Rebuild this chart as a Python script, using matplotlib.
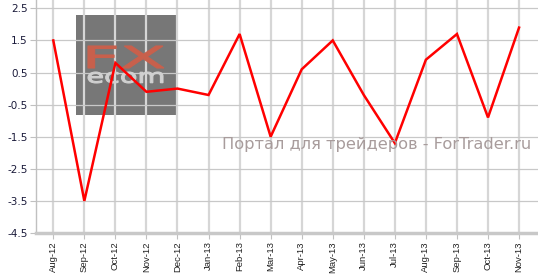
import matplotlib
matplotlib.use("Agg")
import matplotlib.pyplot as plt
from matplotlib.patches import Rectangle, PathPatch
from matplotlib.textpath import TextPath
from matplotlib.font_manager import FontProperties
from matplotlib.transforms import Affine2D, IdentityTransform

months = ["Aug-12", "Sep-12", "Oct-12", "Nov-12", "Dec-12", "Jan-13", "Feb-13", "Mar-13",
          "Apr-13", "May-13", "Jun-13", "Jul-13", "Aug-13", "Sep-13", "Oct-13", "Nov-13"]
values = [1.5, -3.5, 0.8, -0.1, 0.0, -0.2, 1.7, -1.5, 0.6, 1.5, -0.2, -1.7, 0.9, 1.7, -0.9, 1.9]
yticks = [2.5, 1.5, 0.5, -0.5, -1.5, -2.5, -3.5, -4.5]

W, H = 538, 274
fig = plt.figure(figsize=(W / 100, H / 100), dpi=100)
ax = fig.add_axes([36 / W, (H - 233) / H, 1 - 36 / W, 233 / H])

x = list(range(len(months)))
ax.set_xlim(-0.557, len(months) - 1 + 0.61)
ax.set_ylim(-4.5, 2.76)

# grid
for xi in x:
    ax.axvline(xi, color="#d6d6d6", lw=1.6, zorder=1)
for yv in yticks:
    ax.axhline(yv, color="#c8c8c8", lw=0.9, zorder=1)

box = Rectangle((76, H - 115), 100, 100, transform=IdentityTransform(),
                facecolor="#777777", edgecolor="none", zorder=0.5)
ax.add_patch(box)

def fitted_text(s, x0, ytop, w, h, color, weight="normal"):
    fp = FontProperties(family="DejaVu Sans", weight=weight)
    tp = TextPath((0, 0), s, size=10, prop=fp)
    ext = tp.get_extents()
    sx = w / ext.width
    sy = h / ext.height
    tr = (Affine2D().translate(-ext.x0, -ext.y0).scale(sx, sy)
          .translate(x0, H - ytop - h))
    p = PathPatch(tr.transform_path(tp), transform=IdentityTransform(),
                  facecolor=color, edgecolor=color, lw=0.8, zorder=1.2)
    ax.add_patch(p)

fitted_text("FX", 88, 46, 76, 22, "#c8604c")
fitted_text("ecom", 88, 72, 75, 11, "#d0d0d0")

ax.plot(x, values, color="#ff0000", lw=1.8, zorder=3, solid_joinstyle="miter")

ax.text(0.37, 0.38, "Портал для трейдеров - ForTrader.ru", transform=ax.transAxes,
        color="#a89c9c", fontsize=11.7, ha="left", va="center", family="DejaVu Sans",
        zorder=4)

ax.set_xticks(x)
ax.set_xticklabels(months, rotation=90, fontsize=6.8, family="Liberation Sans", color="#222222")
ax.set_yticks(yticks)
ax.set_yticklabels([f"{v:g}" for v in yticks], fontsize=7.5, family="DejaVu Sans", color="#1a1a3a")
ax.tick_params(axis="x", length=4, color="#c0c0c0", pad=2)
ax.tick_params(axis="y", length=4, color="#c0c0c0", pad=2)

for s in ["top", "right"]:
    ax.spines[s].set_visible(False)
ax.spines["left"].set_color("#c0c0c0")
ax.spines["left"].set_linewidth(1.0)
ax.spines["bottom"].set_color("#c8c8c8")
ax.spines["bottom"].set_linewidth(2.5)

fig.savefig("out.png", dpi=100)
